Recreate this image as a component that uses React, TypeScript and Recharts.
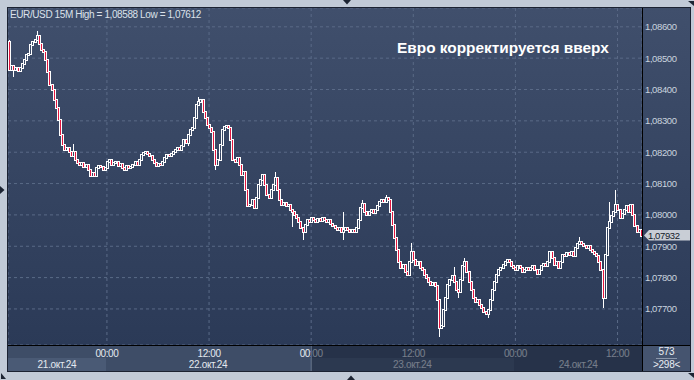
import React from 'react';
import {
  ComposedChart,
  Bar,
  XAxis,
  YAxis,
  CartesianGrid,
  ReferenceLine,
} from 'recharts';

// closes in points above 1.07000 (1 point = 0.00001), 15M candles, 21.10 12:30 -> 24.10 14:45
const firstOpen = 1552;
const closes21 = [
  1463, 1475, 1463, 1469, 1460, 1469, 1482, 1495, 1511, 1514, 1542, 1552, 1558, 1571, 1546, 1526,
  1520, 1495, 1456, 1415, 1399, 1367, 1341, 1303, 1255, 1223, 1207, 1214, 1201, 1188, 1201, 1176,
  1166, 1160, 1166, 1153, 1160, 1144, 1125, 1134, 1125, 1150, 1156, 1153, 1144, 1150,
];
const closes22 = [
  1169, 1176, 1160, 1166, 1169, 1156, 1163, 1150, 1144, 1156, 1150, 1153, 1160, 1169, 1160, 1176,
  1191, 1198, 1201, 1195, 1188, 1176, 1166, 1156, 1163, 1160, 1169, 1182, 1191, 1188, 1195, 1201,
  1207, 1214, 1207, 1220, 1239, 1230, 1255, 1271, 1278, 1310, 1351, 1361, 1367, 1329, 1310, 1287,
  1278, 1265, 1207, 1160, 1176, 1223, 1271, 1281, 1284, 1278, 1239, 1176, 1169, 1182, 1160, 1128,
  1137, 1080, 1029, 1032, 1048, 1022, 1054, 1096, 1112, 1128, 1096, 1064, 1054, 1080, 1096, 1118,
  1080, 1048, 1032, 1038, 1029, 1032, 1016, 1010, 1000, 991, 978, 959, 946, 968, 984, 978,
];
const closes23 = [
  991, 984, 978, 987, 981, 991, 984, 978, 984, 971, 965, 959, 952, 959, 946, 952,
  959, 952, 946, 952, 946, 959, 984, 1022, 1035, 1010, 1000, 1010, 1016, 1006, 1016, 1029,
  1042, 1048, 1042, 1054, 1048, 1010, 968, 927, 888, 850, 831, 841, 818, 809, 850, 882,
  857, 841, 850, 831, 825, 809, 799, 786, 777, 783, 774, 729, 640, 646, 697, 735,
  777, 793, 806, 786, 761, 755, 793, 837, 850, 818, 786, 761, 735, 723, 729, 713,
  704, 691, 684, 697, 729, 761, 786, 809, 825, 831, 841, 850, 857, 850, 837, 831,
];
const closes24 = [
  825, 837, 831, 818, 825, 831, 825, 831, 837, 825, 812, 825, 837, 844, 837, 850,
  882, 863, 841, 850, 831, 850, 873, 869, 879, 873, 882, 869, 895, 908, 914, 908,
  901, 895, 901, 888, 882, 876, 869, 850, 825, 735, 873, 959, 978, 997, 1010, 1032,
  1016, 991, 1003, 1016, 1029, 1010, 1032, 1000, 965, 946, 952, 933,
];

// wick extremes that stand out of the bodies: [candle, points]
const wickHighs = [
  [0, 1558], [13, 1588], [30, 1227], [89, 1377], [125, 1137], [157, 1010], [166, 1048],
  [177, 1064], [189, 911], [209, 834], [214, 863], [268, 930], [282, 1042], [285, 1080],
];
const wickLows = [
  [2, 1441], [84, 1220], [97, 1144], [133, 962], [138, 920], [157, 920], [202, 612],
  [211, 735], [225, 672], [279, 703],
];

const yTicks = [1.077, 1.078, 1.079, 1.08, 1.081, 1.082, 1.083, 1.084, 1.085, 1.086];
const timeTicks = [46, 94, 142, 190, 238, 286];
const timeLabels = ['00:00', '12:00', '00:00', '12:00', '00:00', '12:00'];
const dayLabels = ['21.окт.24', '22.окт.24', '23.окт.24', '24.окт.24'];
const lastPriceLabel = '1,07932';

const toPrice = (pts: number) => +(1.07 + pts / 100000).toFixed(5);

const closes = [...closes21, ...closes22, ...closes23, ...closes24];
const data = closes.map((c, i) => {
  const o = i === 0 ? firstOpen : closes[i - 1];
  let hi = Math.max(o, c);
  let lo = Math.min(o, c);
  const wh = wickHighs.find((w) => w[0] === i);
  const wl = wickLows.find((w) => w[0] === i);
  if (wh) hi = Math.max(hi, wh[1]);
  if (wl) lo = Math.min(lo, wl[1]);
  return { idx: i, open: toPrice(o), close: toPrice(c), high: toPrice(hi), low: toPrice(lo) };
});
const lastClose = data[data.length - 1].close;

const FONT = '"Liberation Sans", Arial, sans-serif';
const RED = '#e3163f';
const W = 682;
const H = 363;
const PLOT_W = 634;
const PLOT_H = 337;

const Candle = (props: any) => {
  const { x, y, width, height, payload } = props;
  const { open, close, high, low } = payload;
  const cx = Math.round(x + width / 2);
  const ratio = high > low ? height / (high - low) : 0;
  const yOf = (v: number) => y + (high - v) * ratio;
  const top = Math.round(yOf(Math.max(open, close)));
  const bot = Math.round(yOf(Math.min(open, close)));
  const yHi = Math.round(y);
  const yLo = Math.round(y + height);
  const bear = close < open;
  return (
    <g>
      {yHi < top - 1 && <line x1={cx + 0.5} x2={cx + 0.5} y1={yHi} y2={top - 1} stroke="#fff" />}
      {yLo > bot + 1 && <line x1={cx + 0.5} x2={cx + 0.5} y1={bot + 1} y2={yLo} stroke="#fff" />}
      <rect
        x={cx - 0.5}
        y={top - 0.5}
        width={2}
        height={bot - top + 1}
        fill={bear ? RED : 'none'}
        stroke="#fff"
        strokeWidth={1}
      />
    </g>
  );
};

const PriceTag = (props: any) => {
  const vb = props.viewBox || {};
  const ax = vb.x + vb.width + 2;
  const ay = Math.round(vb.y) - 0.5;
  return (
    <g>
      <polygon
        points={`${ax},${ay} ${ax + 5},${ay - 5.5} ${ax + 47},${ay - 5.5} ${ax + 47},${ay + 5} ${ax + 5},${ay + 5}`}
        fill="#c9ced6"
      />
      <text x={ax + 4} y={ay + 3.5} fontSize={9.5} letterSpacing={-0.4} fill="#141c2a" fontFamily={FONT}>
        {lastPriceLabel}
      </text>
    </g>
  );
};

const YTick = (props: any) => {
  const { x, y, payload } = props;
  return (
    <text x={x + 3} y={y + 3.5} fontSize={9.5} letterSpacing={-0.4} fill="#cad3df" fontFamily={FONT}>
      {payload.value.toFixed(5).replace('.', ',')}
    </text>
  );
};

const XTick = (props: any) => {
  const { x, y, index } = props;
  return (
    <text x={x} y={y + 12} textAnchor="middle" fontSize={10} letterSpacing={-0.4} fill="#e4e9f0" fontFamily={FONT}>
      {timeLabels[index]}
    </text>
  );
};

const Tri = ({ left, top, points, w, h }: any) => (
  <svg style={{ position: 'absolute', left, top }} width={w} height={h}>
    <polygon points={points} fill="#1c2433" />
  </svg>
);

export default function App() {
  const band = PLOT_W / closes.length;
  const daySpans: number[][] = [];
  let start = 0;
  [closes21, closes22, closes23, closes24].forEach((d) => {
    daySpans.push([start, start + d.length]);
    start += d.length;
  });

  return (
    <div style={{ position: 'absolute', left: 0, top: 0, width: 694, height: 380, background: '#c1cad7', overflow: 'hidden', fontFamily: FONT }}>
      <Tri left={343} top={0} w={9} h={5} points="0,0 8,0 4,4.5" />
      <Tri left={347} top={375} w={9} h={5} points="0,5 8,5 4,0.5" />
      <Tri left={0} top={186} w={5} h={9} points="0,0 0,8 4.5,4" />
      <Tri left={1} top={373} w={6} h={6} points="0,0 0,6 5,6" />
      <Tri left={688} top={373} w={6} h={6} points="0,0 6,0 6,5" />
      <Tri left={688} top={1} w={6} h={6} points="0,0 6,0 6,5" />

      {/* panel */}
      <div style={{ position: 'absolute', left: 7, top: 7, width: W, height: H, border: '1px solid #1b2232' }}>
        <div style={{ position: 'absolute', left: 0, top: 0, width: W, height: PLOT_H, background: 'linear-gradient(#404f6c, #2b3a57)' }} />
        {/* time band */}
        <div style={{ position: 'absolute', left: 0, top: PLOT_H, width: PLOT_W, height: H - PLOT_H, background: '#3e4d67' }} />
        {daySpans.map((s, i) => (
          <div
            key={i}
            style={{
              position: 'absolute',
              left: s[0] * band,
              top: PLOT_H + 13,
              width: (s[1] - s[0]) * band,
              height: H - PLOT_H - 13,
              background: i % 2 === 0 ? '#4a5a75' : '#3e4d67',
            }}
          />
        ))}
        {/* bottom right box */}
        <div style={{ position: 'absolute', left: PLOT_W, top: PLOT_H, width: W - PLOT_W, height: H - PLOT_H, background: '#45546f' }} />
      </div>

      <div style={{ position: 'absolute', left: 8, top: 8 }}>
        <ComposedChart width={W} height={H} data={data} margin={{ top: 0, right: 0, bottom: 0, left: 0 }} barCategoryGap={0}>
          <CartesianGrid stroke="#5a6a87" strokeDasharray="3 3" />
          <XAxis
            dataKey="idx"
            type="category"
            ticks={timeTicks}
            interval={0}
            height={H - PLOT_H}
            tick={<XTick />}
            tickLine={false}
            axisLine={false}
            tickSize={0}
            tickMargin={0}
          />
          <YAxis
            orientation="right"
            type="number"
            domain={[1.07585, 1.0866]}
            allowDataOverflow
            ticks={yTicks}
            width={W - PLOT_W}
            tick={<YTick />}
            tickLine={false}
            axisLine={false}
            tickSize={0}
            tickMargin={0}
          />
          <Bar dataKey={(d: any) => [d.low, d.high]} shape={<Candle />} isAnimationActive={false} />
          <ReferenceLine y={lastClose} stroke="none" label={(p: any) => <PriceTag {...p} />} />
        </ComposedChart>
      </div>

      {/* date labels */}
      {daySpans.map((s, i) => (
        <div
          key={i}
          style={{
            position: 'absolute',
            left: 8 + s[0] * band,
            top: 358,
            width: (s[1] - s[0]) * band,
            textAlign: 'center',
            fontSize: 10,
            letterSpacing: -0.3,
            color: '#e4e9f0',
            lineHeight: '13px',
          }}
        >
          {dayLabels[i]}
        </div>
      ))}

      {/* dim overlay on the later part of the time band */}
      <div style={{ position: 'absolute', left: 8 + 142.2 * band, top: 346, width: PLOT_W - 142.2 * band, height: H - PLOT_H - 1, background: 'rgba(18,27,46,0.52)', borderLeft: '1px solid #56647a' }} />

      {/* axis lines */}
      <div style={{ position: 'absolute', left: 8, top: 345, width: W, height: 1, background: '#000' }} />
      <div style={{ position: 'absolute', left: 642, top: 8, width: 1, height: H, background: '#000' }} />

      {/* counters */}
      <div style={{ position: 'absolute', left: 643, top: 346, width: 47, textAlign: 'center', fontSize: 10, color: '#e8edf3', lineHeight: '12px' }}>
        <div style={{ display: 'inline-block', borderBottom: '1px solid #8b97aa', padding: '0 3px', letterSpacing: -0.3 }}>573</div>
        <div style={{ letterSpacing: -0.3 }}>&gt;298&lt;</div>
      </div>

      {/* title and note */}
      <div style={{ position: 'absolute', left: 10, top: 9, fontSize: 10, letterSpacing: -0.4, color: '#dbe1ea', whiteSpace: 'nowrap', lineHeight: '12px' }}>
        EUR/USD 15M High = 1,08588 Low = 1,07612
      </div>
      <div style={{ position: 'absolute', left: 397, top: 39, fontSize: 15.4, fontWeight: 'bold', color: '#ffffff', whiteSpace: 'nowrap', lineHeight: '18px' }}>
        Евро корректируется вверх
      </div>
    </div>
  );
}
